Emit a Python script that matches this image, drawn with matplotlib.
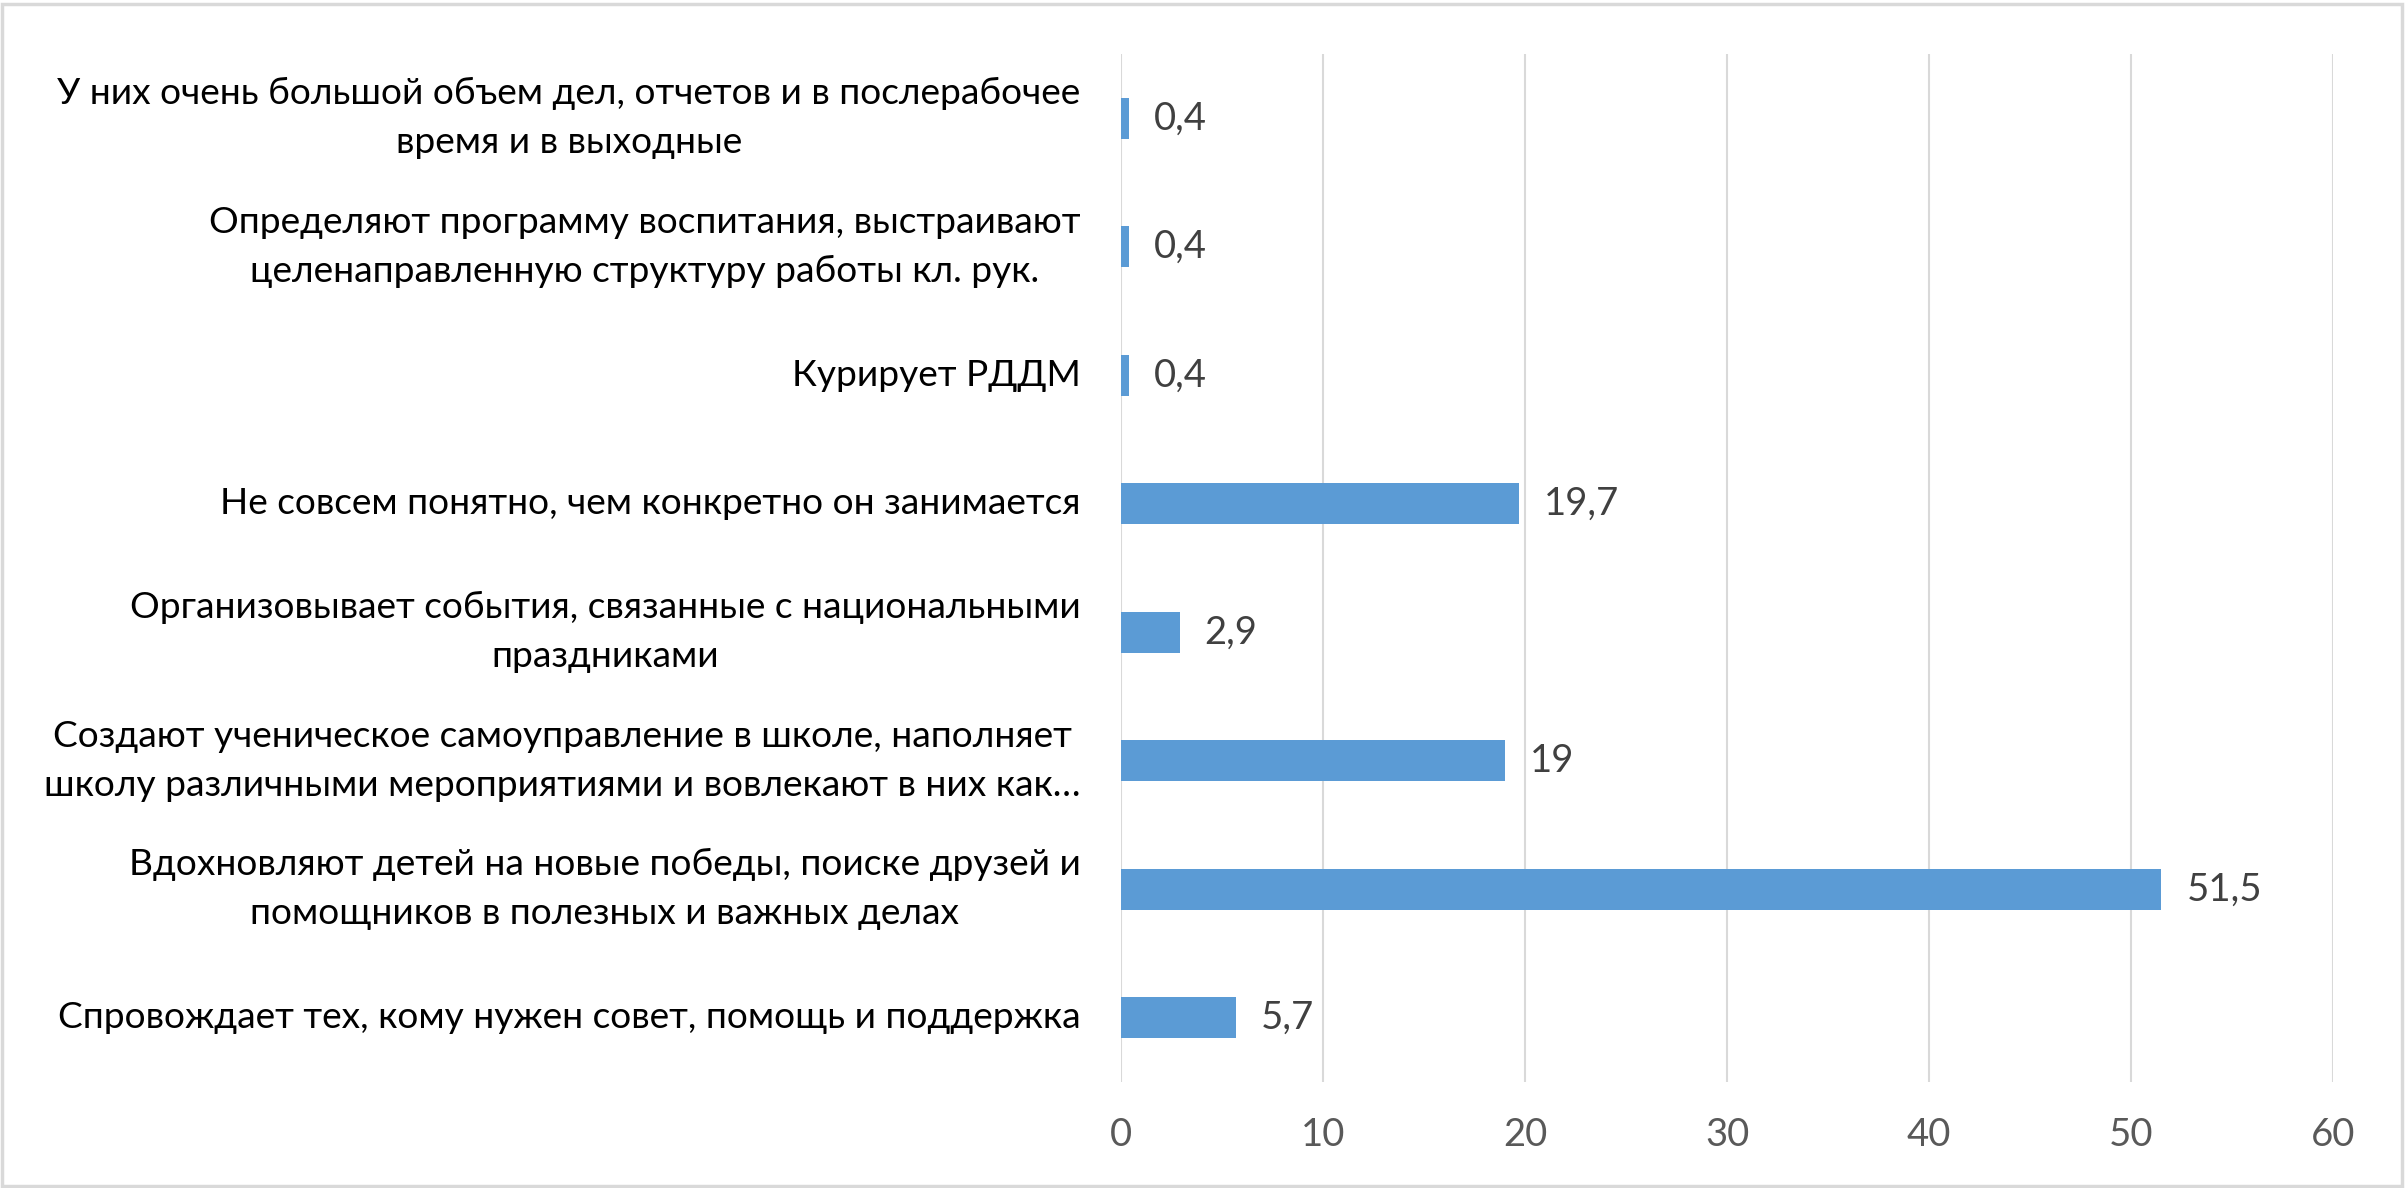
import matplotlib.pyplot as plt
from matplotlib.patches import Rectangle

# categories, bottom to top
labels = [
    "Спровождает тех, кому нужен совет, помощь и поддержка",
    "Вдохновляют детей на новые победы, поиске друзей и\nпомощников в полезных и важных делах",
    "Создают ученическое самоуправление в школе, наполняет\nшколу различными мероприятиями и вовлекают в них как…",
    "Организовывает события, связанные с национальными\nпраздниками",
    "Не совсем понятно, чем конкретно он занимается",
    "Курирует РДДМ",
    "Определяют программу воспитания, выстраивают\nцеленаправленную структуру работы кл. рук.",
    "У них очень большой объем дел, отчетов и в послерабочее\nвремя и в выходные",
]
values = [5.7, 51.5, 19, 2.9, 19.7, 0.4, 0.4, 0.4]
value_text = ["5,7", "51,5", "19", "2,9", "19,7", "0,4", "0,4", "0,4"]
xticks = [0, 10, 20, 30, 40, 50, 60]

plt.rcParams['font.family'] = ['Lato', 'DejaVu Sans']

fig = plt.figure(figsize=(24.07, 11.88), dpi=100)
ax = fig.add_axes([0.4657, 0.0892, 0.9693 - 0.4657, 0.9545 - 0.0892])

y = list(range(len(labels)))
ax.barh(y, values, height=0.32, color="#5B9BD5", zorder=3)
for yi, v, t in zip(y, values, value_text):
    ax.annotate(t, (v, yi), xytext=(18, 0), textcoords="offset points",
                va="center", ha="left", fontsize=27.5, color="#404040")

ax.set_xlim(0, 60)
ax.set_ylim(-0.5, len(labels) - 0.5)
ax.set_xticks(xticks)
ax.set_xticklabels([str(v) for v in xticks], fontsize=27.5, color="#595959")
ax.set_yticks(y)
ax.set_yticklabels(labels, fontsize=26.7, color="black", multialignment="center",
                   linespacing=1.6)
for lbl in ax.get_yticklabels():
    lbl.set_verticalalignment("center")
ax.tick_params(axis="both", length=0)
ax.tick_params(axis="x", pad=25)
ax.tick_params(axis="y", pad=29)
ax.grid(axis="x", color="#d9d9d9", linewidth=1.5, zorder=0)
for s in ax.spines.values():
    s.set_visible(False)

fig.patches.append(Rectangle((0.001, 0.002), 0.997, 0.995, transform=fig.transFigure,
                             fill=False, edgecolor="#d9d9d9", linewidth=2.5))

fig.savefig("out.png", dpi=100, facecolor="white")
